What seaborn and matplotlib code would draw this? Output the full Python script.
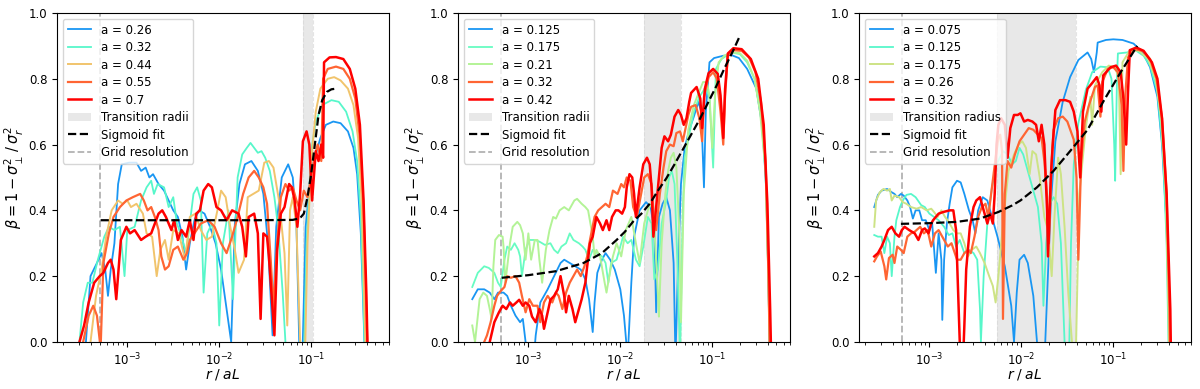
"""Velocity anisotropy profiles for three runs, with sigmoid fits."""

import matplotlib
matplotlib.use("Agg")
import matplotlib.pyplot as plt
import numpy as np
import pandas as pd
import seaborn as sns
from matplotlib.lines import Line2D
from matplotlib.patches import Patch

plt.rcParams["font.size"] = 8.5

# ---------------------------------------------------------------- data
# radii are given as log10(r / aL), values are beta
GRID_RES = 5e-4

# panel 1
P1_LABELS = ["0.26", "0.32", "0.44", "0.55", "0.7"]
P1_TRANSITION = (0.081, 0.104)
P1_TRANS_NAME = "Transition radii"

P1_026_LOGR = [-3.45, -3.4, -3.33, -3.28, -3.24, -3.21, -3.18, -3.14, -3.1, -3.06, -2.98, -2.9, -2.85, -2.8,
               -2.76, -2.72, -2.66, -2.6, -2.55, -2.5, -2.45, -2.4, -2.36, -2.32, -2.27, -2.22, -2.16, -2.1,
               -2.04, -1.98, -1.92, -1.87, -1.83, -1.78, -1.72, -1.65, -1.58, -1.52, -1.47, -1.42, -1.38,
               -1.32, -1.25, -1.2, -1.16, -1.13, -1.1, -1.06, -1.0, -0.95, -0.9, -0.84, -0.76, -0.68, -0.6,
               -0.54, -0.5, -0.46, -0.43, -0.41]
P1_026_BETA = [0.0, 0.2, 0.24, 0.27, 0.22, 0.14, 0.22, 0.3, 0.48, 0.54, 0.545, 0.545, 0.52, 0.53,
               0.5, 0.51, 0.48, 0.46, 0.43, 0.4, 0.38, 0.32, 0.22, 0.3, 0.37, 0.4, 0.39, 0.35,
               0.3, 0.22, 0.1, 0.0, 0.36, 0.48, 0.54, 0.55, 0.52, 0.45, 0.3, 0.02, 0.35,
               0.5, 0.54, 0.5, 0.35, 0.0, -0.1, 0.35, 0.52, 0.57, 0.62, 0.66, 0.67, 0.665, 0.64,
               0.59, 0.51, 0.33, 0.08, -0.1]

P1_032_LOGR = [-3.52, -3.48, -3.43, -3.38, -3.32, -3.25, -3.2, -3.14, -3.08, -3.03, -3.0, -2.92, -2.85,
               -2.79, -2.74, -2.71, -2.67, -2.6, -2.55, -2.5, -2.46, -2.42, -2.36, -2.32, -2.28, -2.24,
               -2.2, -2.17, -2.13, -2.08, -2.03, -2.0, -1.96, -1.9, -1.85, -1.8, -1.75, -1.7, -1.66,
               -1.62, -1.58, -1.54, -1.5, -1.45, -1.4, -1.36, -1.31, -1.27, -1.2, -1.1, -1.05, -1.0,
               -0.95, -0.88, -0.78, -0.7, -0.62, -0.55, -0.5, -0.46, -0.43, -0.41]
P1_032_BETA = [0.0, 0.12, 0.18, 0.18, 0.25, 0.32, 0.35, 0.34, 0.35, 0.2, 0.34, 0.35, 0.43,
               0.47, 0.49, 0.45, 0.48, 0.47, 0.41, 0.44, 0.36, 0.33, 0.27, 0.36, 0.45, 0.47,
               0.43, 0.15, 0.33, 0.36, 0.3, 0.05, 0.3, 0.4, 0.13, 0.5, 0.57, 0.59, 0.605,
               0.59, 0.575, 0.58, 0.56, 0.52, 0.44, 0.35, 0.15, -0.05, -0.3, -0.3, 0.3, 0.58,
               0.67, 0.72, 0.735, 0.73, 0.7, 0.64, 0.55, 0.38, 0.1, -0.1]

P1_044_LOGR = [-3.4, -3.34, -3.28, -3.23, -3.17, -3.1, -3.05, -3.0, -2.96, -2.9, -2.83, -2.79, -2.73,
               -2.68, -2.64, -2.59, -2.55, -2.5, -2.44, -2.37, -2.32, -2.26, -2.2, -2.14, -2.08, -2.02,
               -1.98, -1.93, -1.88, -1.83, -1.79, -1.73, -1.69, -1.63, -1.57, -1.51, -1.46, -1.41,
               -1.35, -1.29, -1.26, -1.23, -1.2, -1.16, -1.12, -1.08, -1.04, -1.0, -0.95, -0.9, -0.82,
               -0.75, -0.68, -0.6, -0.54, -0.49, -0.45, -0.42, -0.4]
P1_044_BETA = [0.0, 0.14, 0.22, 0.32, 0.4, 0.43, 0.42, 0.43, 0.41, 0.42, 0.39, 0.33, 0.32,
               0.2, 0.28, 0.31, 0.25, 0.34, 0.33, 0.25, 0.38, 0.39, 0.34, 0.31, 0.32, 0.4,
               0.46, 0.44, 0.35, 0.28, 0.21, 0.25, 0.44, 0.45, 0.46, 0.545, 0.55, 0.53,
               0.43, 0.27, 0.05, 0.4, 0.44, 0.35, 0.0, -0.2, 0.3, 0.55, 0.7, 0.77, 0.8,
               0.805, 0.795, 0.77, 0.72, 0.62, 0.42, 0.1, -0.1]

P1_055_LOGR = [-3.48, -3.42, -3.37, -3.33, -3.29, -3.26, -3.2, -3.15, -3.08, -3.01, -2.94, -2.86, -2.82,
               -2.78, -2.74, -2.7, -2.66, -2.63, -2.59, -2.55, -2.5, -2.45, -2.39, -2.35, -2.32, -2.27,
               -2.2, -2.12, -2.05, -1.98, -1.92, -1.86, -1.8, -1.74, -1.68, -1.62, -1.57, -1.52, -1.48,
               -1.44, -1.41, -1.37, -1.33, -1.28, -1.24, -1.2, -1.16, -1.12, -1.08, -1.04, -1.0, -0.97,
               -0.93, -0.89, -0.87, -0.82, -0.73, -0.65, -0.58, -0.52, -0.47, -0.43, -0.4, -0.38]
P1_055_BETA = [0.0, 0.08, 0.11, 0.08, -0.02, 0.24, 0.33, 0.38, 0.41, 0.43, 0.44, 0.45, 0.43,
               0.4, 0.41, 0.38, 0.34, 0.26, 0.22, 0.23, 0.28, 0.29, 0.25, 0.27, 0.31, 0.33,
               0.36, 0.37, 0.35, 0.3, 0.27, 0.32, 0.38, 0.45, 0.5, 0.52, 0.5, 0.47, 0.42,
               0.25, 0.1, 0.3, 0.44, 0.48, 0.46, 0.47, 0.43, 0.4, 0.46, 0.44, 0.5, 0.55,
               0.6, 0.55, 0.8, 0.83, 0.837, 0.83, 0.8, 0.74, 0.62, 0.4, 0.1, -0.1]

P1_070_LOGR = [-3.52, -3.47, -3.42, -3.39, -3.36, -3.3, -3.26, -3.21, -3.18, -3.15, -3.12, -3.07, -3.01,
               -2.97, -2.92, -2.85, -2.8, -2.74, -2.66, -2.62, -2.58, -2.52, -2.49, -2.45, -2.41, -2.36,
               -2.32, -2.28, -2.25, -2.21, -2.17, -2.12, -2.08, -2.03, -1.98, -1.92, -1.86, -1.79, -1.75,
               -1.71, -1.68, -1.62, -1.58, -1.55, -1.52, -1.48, -1.46, -1.42, -1.4, -1.37, -1.33, -1.29,
               -1.24, -1.21, -1.18, -1.15, -1.12, -1.09, -1.05, -1.02, -0.99, -0.95, -0.92, -0.89, -0.87,
               -0.86, -0.8, -0.73, -0.65, -0.58, -0.52, -0.47, -0.43, -0.4, -0.38]
P1_070_BETA = [0.0, 0.05, 0.12, 0.15, 0.18, 0.2, 0.21, 0.24, 0.25, 0.22, 0.13, 0.31, 0.35,
               0.33, 0.34, 0.31, 0.32, 0.33, 0.39, 0.4, 0.38, 0.34, 0.37, 0.31, 0.34, 0.32,
               0.37, 0.31, 0.39, 0.4, 0.46, 0.48, 0.47, 0.41, 0.4, 0.37, 0.4, 0.39, 0.35,
               0.26, 0.38, 0.39, 0.33, 0.07, 0.33, 0.32, 0.26, 0.1, 0.02, 0.28, 0.39, 0.41,
               0.48, 0.47, 0.43, 0.35, 0.45, 0.61, 0.64, 0.6, 0.43, 0.58, 0.55, 0.6, 0.56,
               0.85, 0.865, 0.866, 0.86, 0.83, 0.77, 0.66, 0.43, 0.15, -0.1]

P1_SIG_LOGR = [-3.29, -2.5, -1.6, -1.2, -1.14, -1.11, -1.08, -1.04, -1.0, -0.96, -0.92, -0.88, -0.83,
               -0.78, -0.73]
P1_SIG_BETA = [0.37, 0.37, 0.37, 0.371, 0.375, 0.38, 0.39, 0.44, 0.51, 0.6, 0.69, 0.735, 0.76,
               0.768, 0.77]

# panel 2
P2_LABELS = ["0.125", "0.175", "0.21", "0.32", "0.42"]
P2_TRANSITION = (0.018, 0.0455)
P2_TRANS_NAME = "Transition radii"

P2_0125_LOGR = [-3.61, -3.55, -3.48, -3.42, -3.37, -3.33, -3.27, -3.23, -3.19, -3.14, -3.09, -3.06, -3.03,
                -2.97, -2.92, -2.87, -2.79, -2.72, -2.65, -2.61, -2.55, -2.49, -2.43, -2.38, -2.34, -2.3,
                -2.28, -2.25, -2.2, -2.16, -2.11, -2.06, -2.0, -1.96, -1.92, -1.88, -1.85, -1.79, -1.72,
                -1.67, -1.63, -1.61, -1.58, -1.54, -1.5, -1.46, -1.42, -1.4, -1.37, -1.34, -1.3, -1.25,
                -1.2, -1.15, -1.12, -1.09, -1.07, -1.03, -0.98, -0.88, -0.79, -0.71, -0.62, -0.52, -0.45,
                -0.41, -0.39, -0.37]
P2_0125_BETA = [0.13, 0.16, 0.16, 0.15, 0.13, 0.15, 0.15, 0.14, 0.11, 0.08, 0.06, 0.07, 0.0,
                -0.15, 0.02, 0.12, 0.16, 0.2, 0.24, 0.25, 0.24, 0.23, 0.22, 0.19, 0.13, 0.03,
                0.12, 0.21, 0.25, 0.27, 0.25, 0.22, 0.16, 0.08, -0.05, 0.18, 0.32, 0.4, 0.425,
                0.41, 0.34, 0.09, 0.38, 0.42, 0.44, 0.4, 0.24, -0.05, 0.25, 0.48, 0.59, 0.645,
                0.685, 0.73, 0.7, 0.47, 0.7, 0.85, 0.863, 0.87, 0.872, 0.863, 0.83, 0.77, 0.645,
                0.45, 0.2, -0.1]

P2_0175_LOGR = [-3.61, -3.55, -3.48, -3.43, -3.37, -3.33, -3.3, -3.26, -3.23, -3.19, -3.15, -3.11, -3.09,
                -3.07, -3.03, -2.99, -2.93, -2.88, -2.82, -2.76, -2.72, -2.68, -2.64, -2.59, -2.55, -2.51,
                -2.45, -2.41, -2.38, -2.34, -2.3, -2.25, -2.2, -2.16, -2.13, -2.1, -2.04, -1.99, -1.97,
                -1.92, -1.88, -1.83, -1.79, -1.75, -1.7, -1.66, -1.63, -1.59, -1.55, -1.5, -1.47, -1.44,
                -1.41, -1.38, -1.35, -1.32, -1.3, -1.25, -1.2, -1.14, -1.07, -1.03, -0.99, -0.96, -0.9,
                -0.79, -0.7, -0.62, -0.54, -0.47, -0.42, -0.39, -0.37]
P2_0175_BETA = [0.167, 0.21, 0.23, 0.225, 0.21, 0.18, 0.167, 0.25, 0.29, 0.28, 0.3, 0.28, 0.26,
                0.2, 0.28, 0.31, 0.31, 0.305, 0.295, 0.3, 0.28, 0.27, 0.29, 0.3, 0.33, 0.31,
                0.3, 0.29, 0.28, 0.25, 0.28, 0.27, 0.26, 0.24, 0.18, 0.24, 0.25, 0.3, 0.32,
                0.3, 0.31, 0.25, 0.23, 0.29, 0.38, 0.36, 0.19, 0.22, 0.36, 0.43, 0.5, 0.52,
                0.48, 0.25, -0.05, 0.4, 0.56, 0.63, 0.7, 0.745, 0.775, 0.74, 0.53, 0.83, 0.86,
                0.88, 0.875, 0.85, 0.8, 0.69, 0.52, 0.2, -0.1]

P2_021_LOGR = [-3.61, -3.58, -3.53, -3.49, -3.45, -3.42, -3.4, -3.38, -3.36, -3.32, -3.28, -3.27, -3.25,
               -3.2, -3.17, -3.12, -3.09, -3.06, -3.03, -3.0, -2.97, -2.93, -2.9, -2.88, -2.85, -2.81,
               -2.77, -2.73, -2.7, -2.66, -2.61, -2.56, -2.5, -2.47, -2.42, -2.38, -2.35, -2.3, -2.28,
               -2.26, -2.22, -2.17, -2.15, -2.12, -2.08, -2.04, -1.99, -1.94, -1.88, -1.83, -1.79, -1.74,
               -1.68, -1.64, -1.59, -1.58, -1.55, -1.51, -1.48, -1.45, -1.42, -1.39, -1.36, -1.34, -1.31,
               -1.26, -1.2, -1.15, -1.1, -1.06, -1.03, -1.0, -0.97, -0.93, -0.87, -0.79, -0.7, -0.62,
               -0.54, -0.48, -0.42, -0.39, -0.37]
P2_021_BETA = [0.05, 0.0, 0.13, 0.15, 0.14, 0.1, 0.07, 0.23, 0.31, 0.325, 0.32, 0.29, 0.18,
               0.3, 0.35, 0.365, 0.355, 0.33, 0.25, 0.33, 0.25, 0.31, 0.31, 0.25, 0.18, 0.28,
               0.34, 0.38, 0.375, 0.4, 0.41, 0.4, 0.43, 0.435, 0.42, 0.41, 0.4, 0.32, 0.26,
               0.28, 0.26, 0.18, 0.15, 0.2, 0.26, 0.3, 0.26, 0.34, 0.38, 0.3, 0.24, 0.36,
               0.42, 0.4, 0.14, 0.077, 0.3, 0.45, 0.52, 0.56, 0.575, 0.53, 0.35, 0.06, 0.45,
               0.645, 0.72, 0.755, 0.79, 0.79, 0.75, 0.59, 0.75, 0.85, 0.87, 0.88, 0.878, 0.855,
               0.8, 0.7, 0.52, 0.2, -0.1]

P2_032_LOGR = [-3.48, -3.45, -3.41, -3.37, -3.34, -3.3, -3.26, -3.23, -3.19, -3.14, -3.1, -3.07, -3.03,
               -2.99, -2.95, -2.9, -2.87, -2.83, -2.79, -2.74, -2.7, -2.67, -2.63, -2.59, -2.55, -2.51,
               -2.47, -2.43, -2.39, -2.36, -2.33, -2.28, -2.24, -2.16, -2.12, -2.08, -2.03, -1.99, -1.96,
               -1.93, -1.89, -1.86, -1.82, -1.78, -1.74, -1.7, -1.66, -1.63, -1.61, -1.57, -1.53, -1.5,
               -1.46, -1.42, -1.39, -1.35, -1.32, -1.29, -1.26, -1.23, -1.18, -1.14, -1.11, -1.09, -1.04,
               -0.99, -0.95, -0.91, -0.88, -0.86, -0.83, -0.77, -0.68, -0.6, -0.53, -0.47, -0.42, -0.39,
               -0.37]
P2_032_BETA = [0.0, 0.02, 0.06, 0.11, 0.14, 0.155, 0.167, 0.2, 0.195, 0.2, 0.18, 0.14, 0.09,
               0.13, 0.11, 0.11, 0.06, 0.12, 0.14, 0.12, 0.15, 0.14, 0.1, 0.15, 0.18, 0.2,
               0.22, 0.2, 0.23, 0.26, 0.31, 0.38, 0.4, 0.42, 0.41, 0.46, 0.45, 0.48, 0.47,
               0.5, 0.49, 0.41, 0.38, 0.44, 0.5, 0.51, 0.48, 0.36, 0.34, 0.45, 0.53, 0.58,
               0.6, 0.595, 0.635, 0.64, 0.61, 0.65, 0.69, 0.715, 0.72, 0.68, 0.61, 0.745, 0.805,
               0.82, 0.8, 0.7, 0.6, 0.75, 0.87, 0.887, 0.885, 0.865, 0.82, 0.73, 0.55, 0.22,
               -0.1]

P2_042_LOGR = [-3.42, -3.37, -3.32, -3.28, -3.24, -3.2, -3.17, -3.13, -3.1, -3.06, -3.03, -2.99, -2.96,
               -2.92, -2.88, -2.85, -2.83, -2.79, -2.76, -2.72, -2.68, -2.65, -2.61, -2.59, -2.56, -2.52,
               -2.49, -2.45, -2.42, -2.38, -2.36, -2.33, -2.3, -2.26, -2.22, -2.19, -2.15, -2.12, -2.09,
               -2.05, -2.02, -1.98, -1.95, -1.93, -1.9, -1.87, -1.85, -1.83, -1.79, -1.75, -1.71, -1.68,
               -1.66, -1.64, -1.62, -1.58, -1.55, -1.52, -1.48, -1.45, -1.41, -1.37, -1.34, -1.31, -1.28,
               -1.25, -1.23, -1.17, -1.13, -1.11, -1.08, -1.04, -0.99, -0.94, -0.91, -0.88, -0.86, -0.83,
               -0.77, -0.68, -0.58, -0.5, -0.44, -0.4, -0.37, -0.355]
P2_042_BETA = [0.0, 0.06, 0.09, 0.11, 0.1, 0.12, 0.11, 0.12, 0.128, 0.11, 0.12, 0.11, 0.077,
               0.06, 0.1, 0.08, 0.04, 0.09, 0.128, 0.14, 0.16, 0.2, 0.14, 0.09, 0.14, 0.1,
               0.06, 0.1, 0.13, 0.18, 0.23, 0.3, 0.32, 0.38, 0.36, 0.34, 0.37, 0.34, 0.38,
               0.4, 0.4, 0.39, 0.41, 0.47, 0.51, 0.5, 0.45, 0.38, 0.47, 0.54, 0.56, 0.54,
               0.47, 0.32, 0.38, 0.5, 0.59, 0.625, 0.61, 0.63, 0.685, 0.705, 0.69, 0.66, 0.68,
               0.73, 0.757, 0.775, 0.74, 0.65, 0.77, 0.817, 0.83, 0.815, 0.75, 0.62, 0.77, 0.877,
               0.893, 0.89, 0.86, 0.8, 0.66, 0.42, 0.1, -0.1]

P2_SIG_LOGR = [-3.29, -3.0, -2.7, -2.4, -2.2, -2.04, -1.95, -1.86, -1.77, -1.68, -1.59, -1.5, -1.41,
               -1.32, -1.23, -1.14, -1.05, -0.96, -0.87, -0.77, -0.71]
P2_SIG_BETA = [0.195, 0.203, 0.215, 0.24, 0.27, 0.31, 0.335, 0.366, 0.39, 0.42, 0.46, 0.497, 0.54,
               0.585, 0.63, 0.675, 0.725, 0.775, 0.83, 0.887, 0.924]

# panel 3
P3_LABELS = ["0.075", "0.125", "0.175", "0.26", "0.32"]
P3_TRANSITION = (0.0054, 0.039)
P3_TRANS_NAME = "Transition radius"

P3_0075_LOGR = [-3.6, -3.56, -3.52, -3.46, -3.41, -3.38, -3.35, -3.31, -3.28, -3.24, -3.21, -3.18, -3.15,
                -3.11, -3.08, -3.04, -3.0, -2.97, -2.93, -2.9, -2.87, -2.86, -2.84, -2.81, -2.78, -2.75,
                -2.7, -2.66, -2.62, -2.57, -2.53, -2.5, -2.47, -2.42, -2.37, -2.32, -2.26, -2.18, -2.11,
                -2.08, -2.05, -2.02, -1.97, -1.93, -1.87, -1.83, -1.78, -1.74, -1.68, -1.63, -1.55, -1.47,
                -1.38, -1.28, -1.24, -1.21, -1.18, -1.17, -1.08, -1.0, -0.9, -0.78, -0.68, -0.6, -0.52,
                -0.47, -0.42, -0.39, -0.37]
P3_0075_BETA = [0.41, 0.447, 0.46, 0.465, 0.455, 0.45, 0.44, 0.45, 0.445, 0.43, 0.41, 0.375, 0.4,
                0.4, 0.37, 0.37, 0.34, 0.36, 0.21, 0.33, 0.25, 0.067, 0.25, 0.36, 0.42, 0.47,
                0.49, 0.485, 0.45, 0.4, 0.37, 0.33, 0.4, 0.44, 0.43, 0.38, 0.32, 0.23, 0.11,
                0.0, 0.15, 0.25, 0.265, 0.24, 0.14, 0.0, -0.2, 0.0, 0.42, 0.61, 0.73, 0.805,
                0.857, 0.88, 0.86, 0.82, 0.88, 0.91, 0.918, 0.92, 0.918, 0.907, 0.88, 0.835, 0.745,
                0.6, 0.35, 0.1, -0.1]

P3_0125_LOGR = [-3.6, -3.56, -3.52, -3.49, -3.46, -3.43, -3.41, -3.38, -3.36, -3.32, -3.29, -3.25, -3.2,
                -3.15, -3.09, -3.05, -3.0, -2.95, -2.9, -2.84, -2.79, -2.75, -2.71, -2.67, -2.62, -2.57,
                -2.52, -2.48, -2.45, -2.44, -2.41, -2.37, -2.32, -2.27, -2.2, -2.15, -2.1, -2.06, -2.02,
                -1.98, -1.93, -1.88, -1.82, -1.78, -1.76, -1.73, -1.69, -1.65, -1.61, -1.57, -1.53, -1.49,
                -1.46, -1.43, -1.38, -1.3, -1.23, -1.14, -1.06, -1.02, -0.99, -0.98, -0.96, -0.95, -0.85,
                -0.76, -0.67, -0.6, -0.52, -0.46, -0.42, -0.4, -0.39]
P3_0125_BETA = [0.325, 0.32, 0.32, 0.27, 0.32, 0.3, 0.2, 0.32, 0.37, 0.41, 0.43, 0.447, 0.45,
                0.44, 0.416, 0.41, 0.39, 0.38, 0.37, 0.35, 0.325, 0.33, 0.29, 0.31, 0.27, 0.28,
                0.27, 0.25, 0.1, 0.0, 0.2, 0.36, 0.47, 0.54, 0.58, 0.57, 0.54, 0.55, 0.59,
                0.57, 0.52, 0.47, 0.41, 0.3, 0.11, 0.3, 0.42, 0.44, 0.42, 0.3, 0.0, -0.2,
                0.3, 0.54, 0.665, 0.765, 0.82, 0.837, 0.835, 0.8, 0.6, 0.49, 0.8, 0.877, 0.88,
                0.887, 0.87, 0.84, 0.76, 0.58, 0.3, 0.0, -0.1]

P3_0175_LOGR = [-3.6, -3.58, -3.54, -3.5, -3.46, -3.43, -3.41, -3.38, -3.33, -3.29, -3.25, -3.2, -3.14,
                -3.09, -3.03, -2.98, -2.95, -2.91, -2.87, -2.83, -2.79, -2.74, -2.7, -2.66, -2.62, -2.58,
                -2.54, -2.49, -2.45, -2.4, -2.35, -2.31, -2.28, -2.25, -2.2, -2.14, -2.08, -2.03, -1.99,
                -1.95, -1.91, -1.88, -1.84, -1.8, -1.75, -1.71, -1.67, -1.64, -1.6, -1.57, -1.53, -1.49,
                -1.45, -1.42, -1.37, -1.3, -1.25, -1.23, -1.2, -1.12, -1.05, -0.98, -0.94, -0.92, -0.9,
                -0.82, -0.72, -0.62, -0.54, -0.48, -0.43, -0.4, -0.39]
P3_0175_BETA = [0.35, 0.43, 0.455, 0.465, 0.46, 0.465, 0.43, 0.445, 0.44, 0.425, 0.42, 0.41, 0.405,
                0.41, 0.4, 0.405, 0.395, 0.38, 0.4, 0.38, 0.365, 0.34, 0.33, 0.33, 0.3, 0.26,
                0.28, 0.29, 0.27, 0.24, 0.2, 0.17, 0.12, 0.2, 0.36, 0.52, 0.57, 0.6, 0.61,
                0.59, 0.51, 0.58, 0.57, 0.5, 0.38, 0.34, 0.2, 0.38, 0.56, 0.51, 0.35, 0.15,
                0.0, -0.2, 0.45, 0.65, 0.745, 0.66, 0.78, 0.82, 0.84, 0.835, 0.8, 0.51, 0.85,
                0.887, 0.885, 0.86, 0.8, 0.68, 0.45, 0.1, -0.1]

P3_026_LOGR = [-3.6, -3.57, -3.53, -3.49, -3.47, -3.44, -3.4, -3.38, -3.35, -3.31, -3.28, -3.24, -3.2,
               -3.16, -3.1, -3.06, -3.02, -2.98, -2.94, -2.9, -2.86, -2.84, -2.8, -2.76, -2.7, -2.66,
               -2.62, -2.58, -2.55, -2.51, -2.47, -2.43, -2.39, -2.36, -2.32, -2.28, -2.25, -2.23, -2.21,
               -2.2, -2.18, -2.15, -2.11, -2.07, -2.02, -1.97, -1.92, -1.87, -1.82, -1.78, -1.75, -1.72,
               -1.7, -1.67, -1.65, -1.6, -1.55, -1.5, -1.43, -1.4, -1.38, -1.35, -1.31, -1.27, -1.2,
               -1.17, -1.14, -1.12, -1.06, -1.0, -0.95, -0.91, -0.89, -0.87, -0.84, -0.77, -0.68, -0.6,
               -0.53, -0.47, -0.42, -0.39, -0.38]
P3_026_BETA = [0.245, 0.26, 0.275, 0.23, 0.19, 0.255, 0.265, 0.24, 0.29, 0.28, 0.27, 0.32, 0.33,
               0.335, 0.35, 0.33, 0.34, 0.29, 0.33, 0.34, 0.32, 0.31, 0.29, 0.3, 0.25, 0.25,
               0.27, 0.28, 0.27, 0.32, 0.38, 0.41, 0.42, 0.38, 0.47, 0.56, 0.62, 0.63, 0.58,
               0.07, 0.45, 0.55, 0.53, 0.57, 0.61, 0.63, 0.65, 0.645, 0.63, 0.62, 0.55, 0.44,
               0.3, 0.55, 0.645, 0.68, 0.685, 0.67, 0.615, 0.5, 0.25, 0.55, 0.67, 0.715, 0.775,
               0.78, 0.685, 0.79, 0.83, 0.835, 0.82, 0.72, 0.52, 0.75, 0.865, 0.89, 0.885, 0.86,
               0.8, 0.68, 0.45, 0.1, -0.1]

P3_032_LOGR = [-3.6, -3.56, -3.52, -3.49, -3.45, -3.41, -3.37, -3.33, -3.3, -3.27, -3.22, -3.16, -3.12,
               -3.08, -3.05, -3.01, -2.98, -2.96, -2.9, -2.85, -2.78, -2.74, -2.71, -2.69, -2.67, -2.64,
               -2.62, -2.6, -2.56, -2.52, -2.49, -2.45, -2.41, -2.37, -2.34, -2.31, -2.29, -2.27, -2.25,
               -2.22, -2.18, -2.15, -2.12, -2.08, -2.04, -2.01, -1.97, -1.93, -1.88, -1.84, -1.81, -1.78,
               -1.75, -1.72, -1.71, -1.68, -1.66, -1.63, -1.58, -1.52, -1.47, -1.43, -1.39, -1.36, -1.33,
               -1.28, -1.23, -1.18, -1.15, -1.13, -1.11, -1.03, -0.97, -0.92, -0.89, -0.86, -0.84, -0.82,
               -0.75, -0.67, -0.58, -0.52, -0.47, -0.42, -0.38, -0.37]
P3_032_BETA = [0.26, 0.27, 0.29, 0.31, 0.34, 0.35, 0.33, 0.32, 0.34, 0.35, 0.34, 0.33, 0.31,
               0.34, 0.345, 0.33, 0.36, 0.37, 0.39, 0.395, 0.4, 0.4, 0.34, 0.17, 0.0, -0.1,
               0.05, 0.22, 0.35, 0.41, 0.43, 0.44, 0.4, 0.36, 0.39, 0.36, 0.45, 0.6, 0.66,
               0.68, 0.66, 0.56, 0.65, 0.69, 0.69, 0.695, 0.67, 0.675, 0.67, 0.66, 0.61, 0.66,
               0.6, 0.4, 0.26, 0.5, 0.595, 0.705, 0.735, 0.735, 0.73, 0.7, 0.64, 0.5, 0.7,
               0.77, 0.787, 0.805, 0.78, 0.7, 0.81, 0.835, 0.84, 0.82, 0.74, 0.6, 0.76, 0.887,
               0.895, 0.885, 0.85, 0.8, 0.68, 0.45, 0.1, -0.1]

P3_SIG_LOGR = [-3.31, -3.0, -2.7, -2.45, -2.25, -2.1, -2.01, -1.83, -1.65, -1.47, -1.28, -1.1, -0.92,
               -0.74]
P3_SIG_BETA = [0.359, 0.361, 0.365, 0.375, 0.395, 0.415, 0.43, 0.47, 0.52, 0.58, 0.645, 0.735, 0.82,
               0.90]

# rainbow positions of the five runs in each panel
P1_CPOS = [0.2, 0.42, 0.72, 0.87, 1.0]
P2_CPOS = [0.2, 0.45, 0.6, 0.87, 1.0]
P3_CPOS = [0.2, 0.42, 0.65, 0.87, 1.0]
LINE_WIDTHS = [1.3, 1.3, 1.4, 1.6, 1.8]

PANELS = [
    (P1_LABELS, [(P1_026_LOGR, P1_026_BETA), (P1_032_LOGR, P1_032_BETA), (P1_044_LOGR, P1_044_BETA),
                 (P1_055_LOGR, P1_055_BETA), (P1_070_LOGR, P1_070_BETA)],
     (P1_SIG_LOGR, P1_SIG_BETA), P1_TRANSITION, P1_TRANS_NAME, P1_CPOS),
    (P2_LABELS, [(P2_0125_LOGR, P2_0125_BETA), (P2_0175_LOGR, P2_0175_BETA), (P2_021_LOGR, P2_021_BETA),
                 (P2_032_LOGR, P2_032_BETA), (P2_042_LOGR, P2_042_BETA)],
     (P2_SIG_LOGR, P2_SIG_BETA), P2_TRANSITION, P2_TRANS_NAME, P2_CPOS),
    (P3_LABELS, [(P3_0075_LOGR, P3_0075_BETA), (P3_0125_LOGR, P3_0125_BETA), (P3_0175_LOGR, P3_0175_BETA),
                 (P3_026_LOGR, P3_026_BETA), (P3_032_LOGR, P3_032_BETA)],
     (P3_SIG_LOGR, P3_SIG_BETA), P3_TRANSITION, P3_TRANS_NAME, P3_CPOS),
]


def to_frame(logr, beta):
    return pd.DataFrame({"r": np.power(10.0, np.asarray(logr)), "beta": np.asarray(beta)})


fig, axes = plt.subplots(1, 3, figsize=(12, 3.89), dpi=100)
fig.subplots_adjust(left=0.0475, right=0.9925, bottom=0.121, top=0.9666, wspace=0.2085)
cmap = plt.get_cmap("rainbow")

for ax, (labels, series, sig, trans, trans_name, cpos) in zip(axes, PANELS):
    handles = []
    ax.axvspan(trans[0], trans[1], color="lightgrey", alpha=0.5, lw=0, zorder=0)
    for edge in trans:
        ax.axvline(edge, color="lightgrey", alpha=0.6, ls="--", lw=0.8, zorder=0)
    for lab, (logr, beta), c, lw in zip(labels, series, cpos, LINE_WIDTHS):
        df = to_frame(logr, beta)
        sns.lineplot(data=df, x="r", y="beta", ax=ax, color=cmap(c), lw=lw,
                     sort=False, estimator=None, legend=False, zorder=2)
        handles.append(Line2D([], [], color=cmap(c), lw=lw, label=f"a = {lab}"))
    sdf = to_frame(*sig)
    sns.lineplot(data=sdf, x="r", y="beta", ax=ax, color="black", lw=1.6, ls="--",
                 sort=False, estimator=None, legend=False, zorder=3)
    ax.axvline(GRID_RES, color="grey", alpha=0.6, ls="--", lw=1.3, zorder=1)

    handles.append(Patch(facecolor="lightgrey", alpha=0.5, label=trans_name))
    handles.append(Line2D([], [], color="black", lw=1.6, ls="--", label="Sigmoid fit"))
    handles.append(Line2D([], [], color="grey", alpha=0.6, lw=1.3, ls="--", label="Grid resolution"))

    ax.set_xscale("log")
    ax.set_xlim(1.72e-4, 0.70)
    ax.set_ylim(0, 1)
    ax.set_xlabel(r"$r\;/\;aL$", fontsize=10, labelpad=-1)
    ax.set_ylabel(r"$\beta = 1 - \sigma_\perp^2\,/\,\sigma_r^2$", fontsize=10.5, labelpad=2)
    ax.legend(handles=handles, loc="upper left", labelspacing=0.38)

fig.savefig("out.png", dpi=100)
